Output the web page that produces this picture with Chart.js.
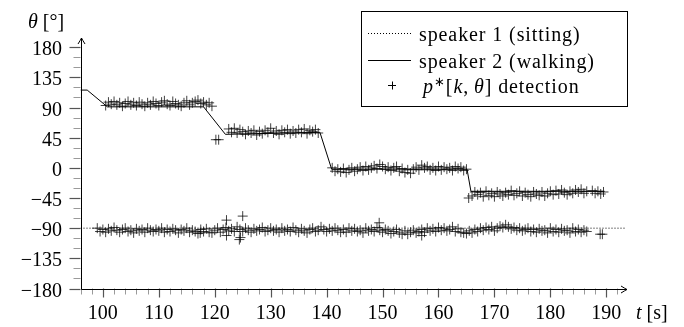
<!DOCTYPE html>
<html><head><meta charset="utf-8">
<script src="https://cdn.jsdelivr.net/npm/chart.js@4/dist/chart.umd.min.js"></script>
<style>html,body{margin:0;padding:0;background:#fff;}
#wrap{position:relative;width:684px;height:327px;overflow:hidden;}
#c{display:block;position:absolute;left:0;top:0;}
#ov{position:absolute;left:0;top:0;width:684px;height:327px;pointer-events:none;}
.lb{position:absolute;font-family:'Liberation Serif','Times New Roman',Tinos,serif;font-size:20px;line-height:1;white-space:nowrap;color:#000;}
.lg{letter-spacing:0.9px;}
.sp{position:relative;top:-7px;font-size:13px;}</style>
</head><body>
<div id="wrap">
<canvas id="c" width="684" height="327"></canvas>
<div id="ov"></div>
</div>
<script>
// ---------------- data ----------------
const xTickValues = [100,110,120,130,140,150,160,170,180,190];
const yTickValues = [-180,-135,-90,-45,0,45,90,135,180];

const sittingT = [96, 193.5];
const sittingTheta = [-90, -90];

const walkingT = [96, 97.2, 100.8, 118.0, 121.9, 138.8, 140.9, 165.1, 165.8, 189.7];
const walkingTheta = [116, 116, 91, 91, 50, 53, -2, -2, -35, -35];

const frameStep = 0.5;
// speaker 1 detections (start 99.0 s)
const det1Start = 99.0;
const det1Theta = [
 -90,-95,-92,-96,-91,-94,-89,-93,-96,-92,-90,-95,-93,-97,-91,-94,-92,-96,-90,-93,-95,-92,
 -94,-90,-96,-92,-95,-91,-93,-97,-92,-94,-90,-96,-93,-95,-98,-92,-95,-91,-96,-97,-93,-90,
 -96,-92,-89,-94,-91,-95,-88,-92,-95,-90,-93,-96,-91,-94,-92,-89,-95,-93,-90,-94,-92,-96,
 -90,-94,-92,-95,-89,-93,-96,-91,-94,-97,-92,-90,-95,-93,-88,-92,-95,-91,-94,-90,-93,-96,
 -92,-96,-90,-94,-91,-95,-93,-97,-90,-94,-92,-95,-89,-93,-96,-92,-94,-98,-95,-92,-97,-99,
 -94,-99,-96,-93,-97,-95,-92,-96,-90,-94,-91,-95,-89,-93,-90,-94,-92,-88,-95,-91,-96,-97,
 -98,-94,-97,-92,-95,-90,-93,-89,-92,-88,-94,-90,-87,-89,-85,-88,-91,-89,-93,-90,-94,-92,
 -90,-95,-92,-96,-91,-94,-93,-97,-90,-95,-92,-96,-91,-94,-93,-97,-90,-95,-92,-96,-93,-95
];
// speaker 2 detections, per plateau
const det2aStart = 100.5;
const det2aTheta = [93,98,95,99,94,97,92,96,99,94,97,93,98,95,92,97,94,99,96,93,98,100,95,93,99,96,94,92,97,100,94,97,99,101,96,98,94,97,92];
const det2bStart = 122.5;
const det2bTheta = [58,53,59,52,57,54,50,55,52,56,49,54,51,56,53,59,52,55,50,56,53,57,51,55,52,57,53,58,51,56,54,57,52];
const det2cStart = 141.0;
const det2cTheta = [0,-5,-2,-6,-1,-7,-3,0,-5,-2,1,-4,2,-3,0,3,-1,5,2,-2,1,-4,0,2,-5,-1,-7,-3,-8,-2,1,-3,4,0,2,-3,0,-4,2,-3,1,-2,0,-4,2,-1,1,-4,-2];
const det2dStart = 166.0;
const det2dTheta = [-42,-36,-40,-37,-43,-35,-41,-38,-43,-36,-39,-42,-37,-40,-34,-41,-38,-35,-42,-37,-40,-43,-36,-39,-41,-36,-42,-38,-35,-40,-34,-39,-33,-37,-40,-35,-38,-33,-36,-32,-38,-35];
const det2eStart = 187.5;
const det2eTheta = [-34,-38,-35,-39,-36];
// isolated detections
const outlierT     = [117.4, 120.2, 120.7, 122.1, 122.1, 124.4, 124.6, 125.0, 149.4, 157.0, 165.4, 188.9, 189.3];
const outlierTheta = [  -97,    42,    42,   -78,  -101,  -107,  -104,   -72,   -82,  -101,   -45,   -99,   -99];

// ---------------- build ----------------
function framePoints(start, thetas){ return thetas.map((th,i)=>({x:start+i*frameStep, y:th})); }
function pairPoints(ts, ths){ return ts.map((t,i)=>({x:t, y:ths[i]})); }
const detections = [].concat(
  framePoints(det1Start, det1Theta),
  framePoints(det2aStart, det2aTheta),
  framePoints(det2bStart, det2bTheta),
  framePoints(det2cStart, det2cTheta),
  framePoints(det2dStart, det2dTheta),
  framePoints(det2eStart, det2eTheta),
  pairPoints(outlierT, outlierTheta)
);

const fmt = v => v < 0 ? '\u2212' + Math.abs(v) : String(v);
const LEG = { L: 361.5, T: 11.5, R: 627.5, B: 106.5, rows: [33, 60, 85] };

function arrowHead(ctx, x, y, dir){
  ctx.beginPath();
  if (dir === 'right'){
    ctx.moveTo(x-6, y-3.5); ctx.quadraticCurveTo(x-2, y-1, x, y); ctx.quadraticCurveTo(x-2, y+1, x-6, y+3.5);
  } else {
    ctx.moveTo(x-3.5, y+6); ctx.quadraticCurveTo(x-1, y+2, x, y); ctx.quadraticCurveTo(x+1, y+2, x+3.5, y+6);
  }
  ctx.stroke();
}

const axesPlugin = {
  id: 'axesPlugin',
  beforeDatasetsDraw(chart){
    const ctx = chart.ctx, a = chart.chartArea;
    const xs = chart.scales.x, ys = chart.scales.y;
    ctx.save();
    ctx.lineWidth = 1;
    ctx.strokeStyle = '#9a9a9a';
    for (let v = 96; v <= 192; v += 2){
      if (v % 10 === 0) continue;
      const px = Math.round(xs.getPixelForValue(v)) + 0.5;
      ctx.beginPath(); ctx.moveTo(px, a.bottom); ctx.lineTo(px, a.bottom + 6); ctx.stroke();
    }
    for (let v = -165; v <= 180; v += 15){
      if (v % 45 === 0) continue;
      const py = Math.round(ys.getPixelForValue(v)) + 0.5;
      ctx.beginPath(); ctx.moveTo(a.left - 7, py); ctx.lineTo(a.left, py); ctx.stroke();
    }
    ctx.strokeStyle = '#555';
    ctx.lineWidth = 1.2;
    xTickValues.forEach(v=>{
      const px = Math.round(xs.getPixelForValue(v)) + 0.5;
      ctx.beginPath(); ctx.moveTo(px, a.bottom); ctx.lineTo(px, a.bottom + 9); ctx.stroke();
    });
    yTickValues.forEach(v=>{
      const py = Math.round(ys.getPixelForValue(v)) + 0.5;
      ctx.beginPath(); ctx.moveTo(a.left - 11, py); ctx.lineTo(a.left, py); ctx.stroke();
    });
    ctx.strokeStyle = '#000';
    ctx.lineWidth = 1;
    const bx = Math.round(a.bottom) + 0.5, lx = Math.round(a.left) + 0.5;
    ctx.beginPath(); ctx.moveTo(lx, bx); ctx.lineTo(a.right, bx); ctx.stroke();
    ctx.beginPath(); ctx.moveTo(lx, bx); ctx.lineTo(lx, a.top); ctx.stroke();
    arrowHead(ctx, a.right, bx, 'right');
    arrowHead(ctx, lx, a.top, 'up');
    ctx.restore();
  }
};

const legendPlugin = {
  id: 'legendPlugin',
  afterDraw(chart){
    const ctx = chart.ctx, r = LEG.rows;
    ctx.save();
    ctx.fillStyle = '#fff';
    ctx.fillRect(LEG.L, LEG.T, LEG.R-LEG.L, LEG.B-LEG.T);
    ctx.strokeStyle = '#000'; ctx.lineWidth = 1;
    ctx.strokeRect(LEG.L, LEG.T, LEG.R-LEG.L, LEG.B-LEG.T);
    ctx.setLineDash([1,2]);
    ctx.beginPath(); ctx.moveTo(368, r[0]+0.5); ctx.lineTo(411, r[0]+0.5); ctx.stroke();
    ctx.setLineDash([]);
    ctx.beginPath(); ctx.moveTo(368, r[1]+0.5); ctx.lineTo(411, r[1]+0.5); ctx.stroke();
    ctx.beginPath(); ctx.moveTo(388, r[2]+0.5); ctx.lineTo(396, r[2]+0.5);
    ctx.moveTo(392.5, r[2]-3.5); ctx.lineTo(392.5, r[2]+4.5); ctx.stroke();
    ctx.restore();
  }
};

const chart = new Chart(document.getElementById('c').getContext('2d'), {
  type: 'scatter',
  data: { datasets: [
    { label: 'p*[k, \u03B8] detection', data: detections, pointStyle: 'cross', pointRadius: 5, pointHoverRadius: 5,
      pointBorderWidth: 1, borderColor: 'rgba(0,0,0,0.75)', backgroundColor: 'rgba(0,0,0,0)', showLine: false },
    { label: 'speaker 2 (walking)', data: pairPoints(walkingT, walkingTheta), showLine: true, borderColor: '#000',
      borderWidth: 1, pointRadius: 0, pointHoverRadius: 0, tension: 0, fill: false },
    { label: 'speaker 1 (sitting)', data: pairPoints(sittingT, sittingTheta), showLine: true, borderColor: '#000',
      borderWidth: 1, borderDash: [1, 2], pointRadius: 0, pointHoverRadius: 0, fill: false }
  ]},
  options: {
    responsive: false, animation: false, devicePixelRatio: 1, events: [],
    layout: { padding: { top: 38, right: 57, left: 0, bottom: 0 } },
    plugins: { legend: { display: false }, tooltip: { enabled: false } },
    scales: {
      x: { type: 'linear', min: 96, max: 193.7, border: { display: false },
           grid: { display: false, drawTicks: false }, ticks: { display: false },
           afterBuildTicks: s => { s.ticks = xTickValues.map(v => ({ value: v })); },
           afterFit: s => { s.height = 38.5; } },
      y: { type: 'linear', min: -180, max: 193.7, border: { display: false },
           grid: { display: false, drawTicks: false }, ticks: { display: false },
           afterBuildTicks: s => { s.ticks = yTickValues.map(v => ({ value: v })); },
           afterFit: s => { s.width = 80.5; } }
    }
  },
  plugins: [axesPlugin, legendPlugin]
});

// ---------------- text labels (real text, placed with the chart's scales) ----------------
const ov = document.getElementById('ov');
function label(html, x, y, tx, extra){
  const d = document.createElement('div');
  d.className = 'lb' + (extra ? ' ' + extra : '');
  d.innerHTML = html;
  d.style.left = x + 'px';
  d.style.top = y + 'px';
  d.style.transform = 'translate(' + tx + ',-50%)';
  ov.appendChild(d);
}
const xs = chart.scales.x, ys = chart.scales.y;
xTickValues.forEach(v => label(fmt(v), xs.getPixelForValue(v), 312, '-50%'));
yTickValues.forEach(v => label(fmt(v), 62, ys.getPixelForValue(v) + 1, '-100%'));
label('<i>\u03B8</i>&nbsp;[\u00B0]', 28, 21, '0');
label('<i>t</i>&nbsp;[s]', 636, 312, '0');
label('speaker 1 (sitting)', 419, LEG.rows[0] + 1, '0', 'lg');
label('speaker 2 (walking)', 419, LEG.rows[1] + 1, '0', 'lg');
label('<i>p</i><span class="sp">\u2217</span>[<i>k</i>,&thinsp;<i>\u03B8</i>] detection', 423, LEG.rows[2] + 1, '0', 'lg');
</script>
</body></html>
